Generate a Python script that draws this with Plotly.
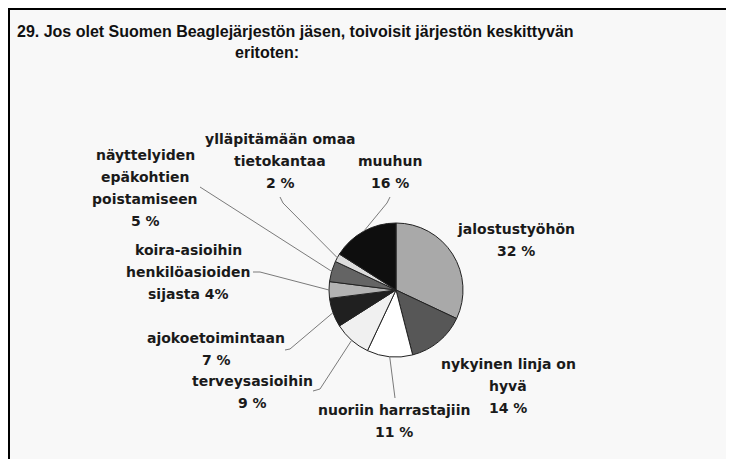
import math
import plotly.graph_objects as go

# page body adds an 8px offset; figure coordinates below are screenshot coords
OFF = 8
W, H = 734 - OFF, 459 - OFF

# ---- data ----
categories = ["jalostustyöhön", "nykyinen linja on hyvä", "nuoriin harrastajiin",
              "terveysasioihin", "ajokoetoimintaan",
              "koira-asioihin henkilöasioiden sijasta",
              "näyttelyiden epäkohtien poistamiseen",
              "ylläpitämään omaa tietokantaa", "muuhun"]
values = [32, 14, 11, 9, 7, 4, 5, 2, 16]
label_lines = [
    ["jalostustyöhön", "32 %"],
    ["nykyinen linja on", "hyvä", "14 %"],
    ["nuoriin harrastajiin", "11 %"],
    ["terveysasioihin", "9 %"],
    ["ajokoetoimintaan", "7 %"],
    ["koira-asioihin", "henkilöasioiden", "sijasta 4%"],
    ["näyttelyiden", "epäkohtien", "poistamiseen", "5 %"],
    ["ylläpitämään omaa", "tietokantaa", "2 %"],
    ["muuhun", "16 %"],
]
title_lines = ["29. Jos olet Suomen Beaglejärjestön jäsen, toivoisit järjestön keskittyvän",
               "eritoten:"]

# ---- styling / layout (screenshot pixel coordinates) ----
colors = ["#a9a9a9", "#575757", "#ffffff", "#f0f0f0", "#202020",
          "#b3b3b3", "#646464", "#dcdcdc", "#0e0e0e"]
CX, CY, R = 396, 290, 67
label_pos = [(516, 229), (508, 364), (394, 410), (252, 381), (216, 338),
             (188, 250), (145, 155), (280, 139), (390, 161)]
leader_pts = [None, None, [(395, 398)], [(313, 391), (320, 389)],
              [(285, 350), (290, 349)], [(253, 272), (260, 272)],
              [(200, 187)], [(280, 197), (283, 203)], [(390, 197), (387, 203)]]
LINE_H = 22
LABEL_FONT = dict(family="DejaVu Sans", size=14, color="#1a1a1a", weight="bold")


def px(x):
    return (x - OFF) / W


def py(y):
    return 1 - (y - OFF) / H


fig = go.Figure(go.Pie(
    labels=categories, values=values, sort=False, direction="clockwise",
    rotation=0, textinfo="none", hoverinfo="label+percent",
    marker=dict(colors=colors, line=dict(color="#222222", width=1)),
    domain=dict(x=[px(CX - R), px(CX + R)], y=[py(CY + R), py(CY - R)]),
    showlegend=False,
))

shapes = [dict(type="rect", xref="paper", yref="paper",
               x0=px(9), x1=px(729.5), y0=-0.05, y1=py(9),
               fillcolor="#f8f8f8", line=dict(color="#000000", width=2),
               layer="below")]

total = sum(values)
cum = 0
annotations = []
for i, v in enumerate(values):
    mid = (cum + v / 2) / total * 2 * math.pi
    cum += v
    ex = CX + R * math.sin(mid)
    ey = CY - R * math.cos(mid)
    if leader_pts[i]:
        pts = leader_pts[i] + [(ex, ey)]
        path = "M " + " L ".join(f"{px(a)},{py(b)}" for a, b in pts)
        shapes.append(dict(type="path", xref="paper", yref="paper", path=path,
                           line=dict(color="#7a7a7a", width=1)))
    lx, ly = label_pos[i]
    for j, t in enumerate(label_lines[i]):
        annotations.append(dict(text=t, x=px(lx), y=py(ly + j * LINE_H),
                                xref="paper", yref="paper", showarrow=False,
                                xanchor="center", yanchor="middle",
                                font=LABEL_FONT))

title_font = dict(family="Liberation Sans, Arial", size=16, color="#111111",
                  weight="bold")
annotations.append(dict(text=title_lines[0], x=px(295), y=py(31), xref="paper",
                        yref="paper", showarrow=False, xanchor="center",
                        yanchor="middle", font=title_font))
annotations.append(dict(text=title_lines[1], x=px(267), y=py(53), xref="paper",
                        yref="paper", showarrow=False, xanchor="center",
                        yanchor="middle", font=title_font))

fig.update_layout(width=W, height=H, margin=dict(l=0, r=0, t=0, b=0),
                  paper_bgcolor="#ffffff", plot_bgcolor="#ffffff",
                  shapes=shapes, annotations=annotations)
fig.write_html("out.html")
